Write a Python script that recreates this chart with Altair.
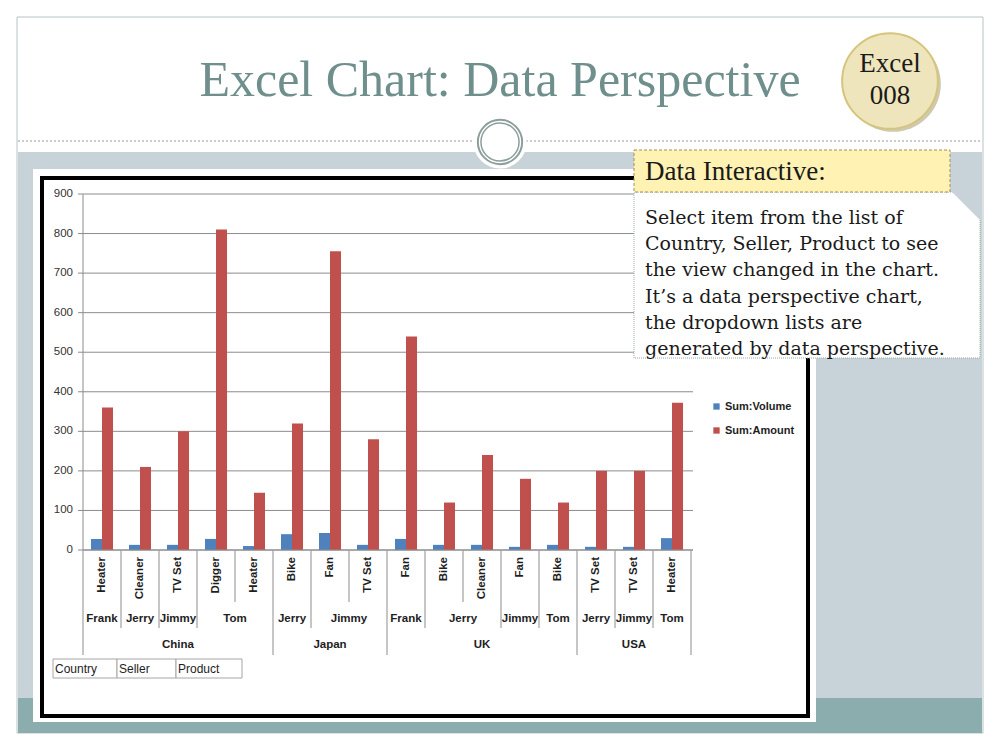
import math
import altair as alt
import pandas as pd

# ---------------- data ----------------
countries = ["China", "China", "China", "China", "China",
             "Japan", "Japan", "Japan",
             "UK", "UK", "UK", "UK", "UK",
             "USA", "USA", "USA"]
sellers = ["Frank", "Jerry", "Jimmy", "Tom", "Tom",
           "Jerry", "Jimmy", "Jimmy",
           "Frank", "Jerry", "Jerry", "Jimmy", "Tom",
           "Jerry", "Jimmy", "Tom"]
products = ["Heater", "Cleaner", "TV Set", "Digger", "Heater",
            "Bike", "Fan", "TV Set",
            "Fan", "Bike", "Cleaner", "Fan", "Bike",
            "TV Set", "TV Set", "Heater"]
volume = [28, 13, 13, 28, 10, 40, 43, 13, 28, 13, 13, 8, 13, 8, 8, 30]
amount = [360, 210, 300, 810, 145, 320, 755, 280, 540, 120, 240, 180, 120, 200, 200, 372]
series = ["Sum:Volume", "Sum:Amount"]
series_colors = ["#4f81bd", "#c0504d"]
y_ticks = [0, 100, 200, 300, 400, 500, 600, 700, 800, 900]
field_buttons = ["Country", "Seller", "Product"]

title_text = "Excel Chart: Data Perspective"
badge_lines = ["Excel", "008"]
note_header = "Data Interactive:"
note_lines = ["Select item from the list of",
              "Country,  Seller, Product to see",
              "the view changed in the chart.",
              "It\u2019s a data perspective  chart,",
              "the dropdown  lists are",
              "generated by data perspective."]

# ---------------- tables ----------------
n = len(products)
slot_keys = [f"s{i:02d}" for i in range(n)]
bars = pd.DataFrame(
    [{"slot": slot_keys[i], "series": series[0], "value": volume[i]} for i in range(n)]
    + [{"slot": slot_keys[i], "series": series[1], "value": amount[i]} for i in range(n)]
)
prod_df = pd.DataFrame({"slot": slot_keys, "product": products})
grid_df = pd.DataFrame({"v": y_ticks, "label": [str(v) for v in y_ticks]})

# hierarchy boundaries
bounds = []
for b in range(n + 1):
    if b == 0 or b == n or countries[b - 1] != countries[b]:
        lvl = "country"
    elif sellers[b - 1] != sellers[b]:
        lvl = "seller"
    else:
        lvl = "product"
    bounds.append({"b": b, "level": lvl})
bounds_df = pd.DataFrame(bounds)


def spans(keys):
    out = []
    start = 0
    for i in range(1, n + 1):
        if i == n or keys[i] != keys[start]:
            out.append({"mid": (start + i) / 2, "label": keys[start][-1]})
            start = i
    return out


seller_df = pd.DataFrame(spans(list(zip(countries, sellers))))
country_df = pd.DataFrame(spans([(c,) for c in countries]))

one = pd.DataFrame({"a": [1]})

# ---------------- scales ----------------
PX0, PX1 = 83, 691
Y0, Y1 = 550, 194
yscale = alt.Scale(domain=[0, 900], range=[Y0, Y1], nice=False, zero=True)
xband = alt.Scale(domain=slot_keys, range=[PX0, PX1], paddingInner=0.42, paddingOuter=0.21)
xq = alt.Scale(domain=[0, n], range=[PX0, PX1], nice=False, zero=False)

SANS = "Liberation Sans"
SERIF = "Liberation Serif"
SERIF2 = "DejaVu Serif"
TXT = "#1e1e1e"


def rect(x, x2, y, y2, **kw):
    return alt.Chart(one).mark_rect(**kw).encode(
        x=alt.value(x), x2=alt.value(x2), y=alt.value(y), y2=alt.value(y2))


def rule(x, x2, y, y2, **kw):
    return alt.Chart(one).mark_rule(**kw).encode(
        x=alt.value(x), x2=alt.value(x2), y=alt.value(y), y2=alt.value(y2))


def text(s, x, y, **kw):
    return alt.Chart(one).mark_text(text=s, **kw).encode(x=alt.value(x), y=alt.value(y))


def circle(x, y, r, **kw):
    return alt.Chart(one).mark_point(shape="circle", size=math.pi * r * r, opacity=1, **kw).encode(
        x=alt.value(x), y=alt.value(y))


layers = []
# slide background
layers.append(rect(17, 983, 17, 733, fill="#ffffff", stroke="#b8c4c6", strokeWidth=1))
layers.append(rect(18, 982, 152, 698, fill="#c8d3d9"))
layers.append(rect(18, 982, 698, 733, fill="#8badad"))
layers.append(rule(18, 982, 141, 141, color="#9a9a9a", strokeDash=[2, 2], strokeWidth=1))
layers.append(circle(500, 142, 30, filled=True, fill="#ffffff", strokeWidth=0))
layers.append(circle(500, 142, 25, filled=False, stroke="#8d9e9c", strokeWidth=2))
layers.append(circle(500, 142, 21.5, filled=False, stroke="#8d9e9c", strokeWidth=1.5))
# title and badge
layers.append(text(title_text, 500, 96, font=SERIF, fontSize=50, color="#6f8f8c", align="center",
                   baseline="alphabetic"))
layers.append(circle(893, 84, 54, filled=True, fill="#cfc9b0", strokeWidth=0))
layers.append(circle(890, 81, 54, filled=True, fill="#efe5bc", stroke="#d4c47c", strokeWidth=2))
layers.append(text(badge_lines[0], 890, 72, font=SERIF, fontSize=27, color="#1a1a1a", align="center",
                   baseline="alphabetic"))
layers.append(text(badge_lines[1], 890, 104, font=SERIF, fontSize=27, color="#1a1a1a", align="center",
                   baseline="alphabetic"))
# chart panel
layers.append(rect(33, 816, 169, 722, fill="#ffffff"))
layers.append(rect(42, 808, 178, 716, fill="#ffffff", stroke="#000000", strokeWidth=4))

# gridlines, ticks, labels
layers.append(alt.Chart(grid_df).mark_rule(color="#8c8c8c", strokeWidth=1).encode(
    y=alt.Y("v:Q", scale=yscale, axis=None), x=alt.value(PX0), x2=alt.value(693)))
layers.append(alt.Chart(grid_df).mark_rule(color="#8c8c8c", strokeWidth=1).encode(
    y=alt.Y("v:Q", scale=yscale, axis=None), x=alt.value(78), x2=alt.value(PX0)))
layers.append(alt.Chart(grid_df).mark_text(font=SANS, fontSize=11.5, color="#333333", align="right",
                                           baseline="middle").encode(
    y=alt.Y("v:Q", scale=yscale, axis=None), x=alt.value(73), text="label:N"))
layers.append(alt.Chart(one).mark_rule(color="#8c8c8c", strokeWidth=1).encode(
    x=alt.value(PX0), y=alt.Y(datum=0, scale=yscale, axis=None), y2=alt.Y2(datum=900)))

# bars
layers.append(alt.Chart(bars).mark_bar().encode(
    x=alt.X("slot:N", scale=xband, axis=None),
    xOffset=alt.XOffset("series:N", scale=alt.Scale(domain=series)),
    y=alt.Y("value:Q", scale=yscale, axis=None),
    color=alt.Color("series:N", scale=alt.Scale(domain=series, range=series_colors),
                    legend=alt.Legend(orient="none", legendX=711, legendY=401, title=None,
                                      symbolType="square", symbolSize=40, symbolStrokeWidth=0,
                                      labelFont=SANS, labelFontSize=11, labelColor=TXT,
                                      labelFontWeight="bold", labelOffset=3,
                                      rowPadding=12, padding=0)),
))

# x axis line
layers.append(alt.Chart(one).mark_rule(color="#8c8c8c", strokeWidth=1).encode(
    y=alt.Y(datum=0, scale=yscale, axis=None), x=alt.value(PX0), x2=alt.value(693)))

# hierarchy separators
depth = {"product": 602, "seller": 628, "country": 655}
for lvl, d in depth.items():
    layers.append(alt.Chart(bounds_df).transform_filter(alt.datum.level == lvl)
                  .mark_rule(color="#a0a0a0", strokeWidth=1.2).encode(
        x=alt.X("b:Q", scale=xq, axis=None), y=alt.value(Y0), y2=alt.value(d)))

# product labels
layers.append(alt.Chart(prod_df).mark_text(font=SANS, fontSize=11.5, fontWeight="bold", color=TXT,
                                           angle=270, align="right", baseline="middle").encode(
    x=alt.X("slot:N", scale=xband, axis=None), y=alt.value(557), text="product:N"))
layers.append(alt.Chart(seller_df).mark_text(font=SANS, fontSize=11.5, fontWeight="bold", color=TXT,
                                             align="center", baseline="middle").encode(
    x=alt.X("mid:Q", scale=xq, axis=None), y=alt.value(619), text="label:N"))
layers.append(alt.Chart(country_df).mark_text(font=SANS, fontSize=11.5, fontWeight="bold", color=TXT,
                                              align="center", baseline="middle").encode(
    x=alt.X("mid:Q", scale=xq, axis=None), y=alt.value(645), text="label:N"))

# field buttons
btn_edges = [53, 117, 176, 242]
for i, lab in enumerate(field_buttons):
    layers.append(rect(btn_edges[i], btn_edges[i + 1], 659, 678, fill="#ffffff", stroke="#a6a6a6",
                       strokeWidth=1))
    layers.append(text(lab, btn_edges[i] + 2, 669, font=SANS, fontSize=12, color=TXT, align="left",
                       baseline="middle"))

# note box
layers.append(rect(634, 980, 192, 358, fill="#ffffff", stroke="#98aca4", strokeWidth=1,
                   strokeDash=[1, 1]))
layers.append(alt.Chart(one).mark_point(shape="M -1 -1 L 1 -1 L 1 1 Z", size=900, filled=True,
                                        fill="#c8d3d9", strokeWidth=0, opacity=1).encode(
    x=alt.value(966), y=alt.value(206)))
layers.append(rect(634, 950, 150, 192, fill="#fff2b3", stroke="#a58f57", strokeWidth=1,
                   strokeDash=[3, 2]))
layers.append(text(note_header, 645, 172, font=SERIF, fontSize=27, color="#1a1a1a", align="left",
                   baseline="middle"))
for i, line in enumerate(note_lines):
    layers.append(text(line, 645, 218 + i * 26.2, font=SERIF2, fontSize=19, color="#1a1a1a",
                       align="left", baseline="middle"))

chart = alt.layer(*layers).resolve_scale(x="independent").properties(
    width=1000, height=750, autosize=alt.AutoSizeParams(type="none"), padding=0,
    background="#ffffff"
).configure_view(strokeWidth=0)

chart.save("out.html", embed_options={"renderer": "svg", "actions": False})
